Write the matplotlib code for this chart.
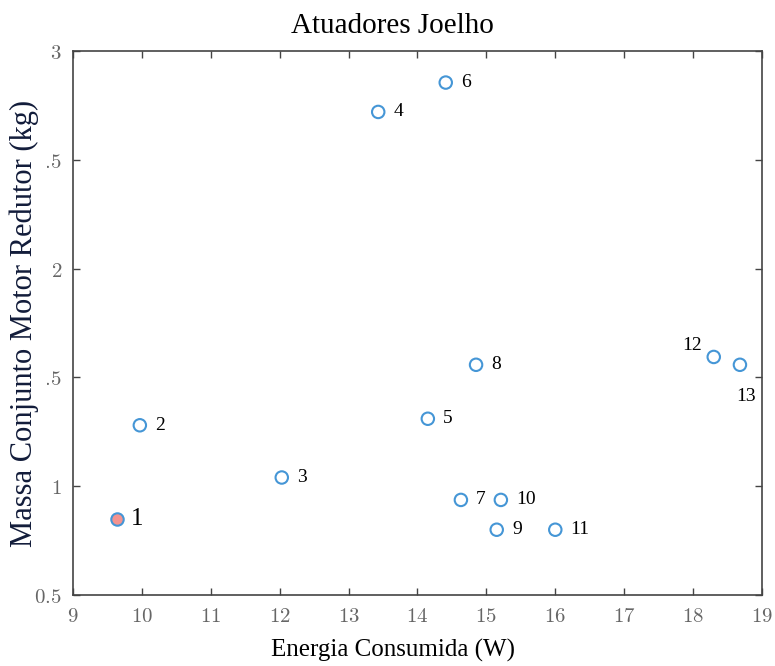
import matplotlib
matplotlib.use("Agg")
import matplotlib.pyplot as plt
from matplotlib.ticker import FuncFormatter, MultipleLocator

plt.rcParams['mathtext.fontset'] = 'cm'

# Actuator candidates: consumed energy (W) vs motor+gearbox mass (kg)
ids = ["1", "2", "3", "4", "5", "6", "7", "8", "9", "10", "11", "12", "13"]
energia = [9.64, 9.97, 12.03, 13.43, 14.15, 14.41, 14.63, 14.85, 15.15, 15.21, 16.0, 18.30, 18.68]
massa = [0.85, 1.28, 1.04, 2.72, 1.31, 2.855, 0.937, 1.558, 0.80, 0.937, 0.80, 1.594, 1.558]
escolhido = "1"

# label offsets in points (dx, dy)
offsets = {"12": (-23, 8), "13": (-3, -23), "1": (10, 0)}

fig = plt.figure(figsize=(7.75, 6.66), dpi=100)
ax = fig.add_axes([0.0942, 0.1066, 0.889, 0.8168])

blue = '#4596d6'
for i, x, y in zip(ids, energia, massa):
    face = '#f4938f' if i == escolhido else 'none'
    ax.scatter(x, y, s=80, facecolors=face, edgecolors=blue, linewidths=1.5, zorder=3)
    dx, dy = offsets.get(i, (11, 0))
    ax.annotate(i, (x, y), xytext=(dx, dy), textcoords='offset points',
                ha='left', va='center', family='Liberation Serif',
                fontsize=18 if i == escolhido else 14, color='black')

ax.set_xlim(9, 19)
ax.set_ylim(0.5, 3)
ax.xaxis.set_major_locator(MultipleLocator(1))
ax.yaxis.set_major_locator(MultipleLocator(0.5))
ax.xaxis.set_major_formatter(FuncFormatter(lambda v, p: f'${v:g}$'))
ax.yaxis.set_major_formatter(FuncFormatter(lambda v, p: f'${v:g}$'))
ax.tick_params(direction='in', top=True, right=True, length=5, width=1,
               color='#444444', labelcolor='#666666', labelsize=15, pad=8)
for sp in ax.spines.values():
    sp.set_color('#444444')
    sp.set_linewidth(1.2)

ax.set_title('Atuadores Joelho', family='Liberation Serif', fontsize=21, pad=13, x=0.464)
ax.set_xlabel('Energia Consumida (W)', family='Liberation Serif', fontsize=18, labelpad=9)
ax.xaxis.label.set_x(0.464)
ax.set_ylabel('Massa Conjunto Motor Redutor (kg)', family='Liberation Serif',
              fontsize=22, color='#121c3a',
              bbox=dict(facecolor='white', edgecolor='none', pad=6))
ax.yaxis.set_label_coords(-0.049, 0.5)

fig.savefig('out.png', dpi=100)
